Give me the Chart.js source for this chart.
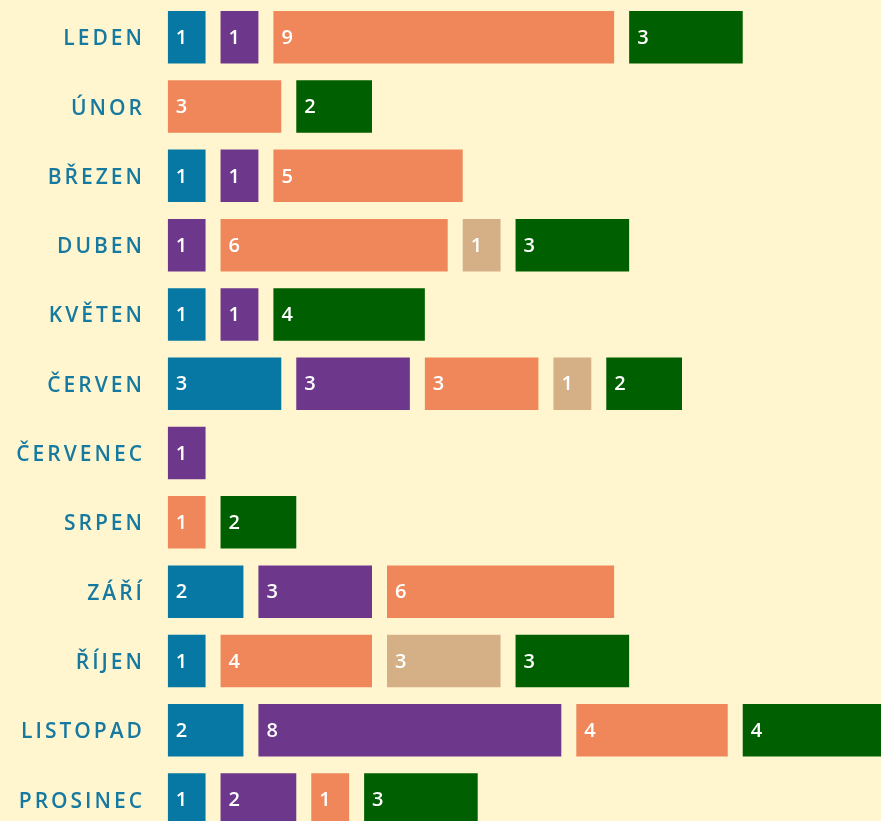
<!DOCTYPE html>
<html>
<head>
<meta charset="utf-8">
<script src="https://cdn.jsdelivr.net/npm/chart.js@4/dist/chart.umd.min.js"></script>
<style>
  html, body { margin: 0; padding: 0; background: #fff6d0; overflow: hidden; }
  #wrap { width: 881px; height: 836px; }
</style>
</head>
<body>
<div id="wrap"><canvas id="c" width="881" height="836"></canvas></div>
<script>
const months = ["LEDEN","ÚNOR","BŘEZEN","DUBEN","KVĚTEN","ČERVEN","ČERVENEC","SRPEN","ZÁŘÍ","ŘÍJEN","LISTOPAD","PROSINEC"];
const seriesBlue   = [1,0,1,0,1,3,0,0,2,1,2,1];
const seriesPurple = [1,0,1,1,1,3,1,0,3,0,8,2];
const seriesOrange = [9,3,5,6,0,3,0,1,6,4,4,1];
const seriesTan    = [0,0,0,1,0,1,0,0,0,3,0,0];
const seriesGreen  = [3,2,0,3,4,2,0,2,0,3,4,3];

const series = [seriesBlue, seriesPurple, seriesOrange, seriesTan, seriesGreen];
const colors = ["#0678a3", "#6d378b", "#ef875b", "#d5b086", "#005f00"];
const GAP = 0.396;

const datasets = [];
series.forEach((vals, s) => {
  datasets.push({
    label: "s" + s,
    data: vals,
    backgroundColor: colors[s],
    borderWidth: 0,
    isValue: true
  });
  if (s < series.length - 1) {
    const gaps = vals.map((v, m) => {
      const later = series.slice(s + 1).some(arr => arr[m] > 0);
      return (v > 0 && later) ? GAP : 0;
    });
    datasets.push({
      label: "gap" + s,
      data: gaps,
      backgroundColor: "rgba(0,0,0,0)",
      borderWidth: 0,
      isValue: false
    });
  }
});

const labelPlugin = {
  id: "labels",
  afterDatasetsDraw(chart) {
    const ctx = chart.ctx;
    ctx.save();
    ctx.fillStyle = "#ffffff";
    ctx.font = "600 20px 'Open Sans', 'Noto Sans', sans-serif";
    ctx.textAlign = "left";
    ctx.textBaseline = "middle";
    chart.data.datasets.forEach((ds, i) => {
      if (!ds.isValue) return;
      const meta = chart.getDatasetMeta(i);
      meta.data.forEach((el, j) => {
        const v = ds.data[j];
        if (!v) return;
        const left = Math.min(el.base, el.x);
        ctx.fillText(String(v), left + 8, el.y + 1);
      });
    });
    ctx.restore();
  },
  afterDraw(chart) {
    const ctx = chart.ctx;
    const yScale = chart.scales.y;
    ctx.save();
    ctx.fillStyle = "#1679a0";
    ctx.font = "600 21px 'Open Sans', 'Noto Sans', sans-serif";
    ctx.textBaseline = "middle";
    ctx.textAlign = "left";
    const ls = 3;
    try { ctx.letterSpacing = ls + "px"; } catch (e) {}
    months.forEach((m, i) => {
      const y = yScale.getPixelForValue(i);
      const w = ctx.measureText(m).width - ls;
      ctx.fillText(m, 142 - w, y + 2);
    });
    ctx.restore();
  }
};

new Chart(document.getElementById("c"), {
  type: "bar",
  data: { labels: months, datasets },
  options: {
    indexAxis: "y",
    responsive: false,
    animation: false,
    devicePixelRatio: 1,
    layout: { padding: { left: 167.7, right: 0, top: 2.6, bottom: 1.8 } },
    datasets: { bar: { categoryPercentage: 1, barPercentage: 0.758 } },
    scales: {
      x: { stacked: true, display: false, min: 0, max: 18.84 },
      y: { stacked: true, display: false }
    },
    plugins: { legend: { display: false }, tooltip: { enabled: false } }
  },
  plugins: [labelPlugin]
});
</script>
</body>
</html>
